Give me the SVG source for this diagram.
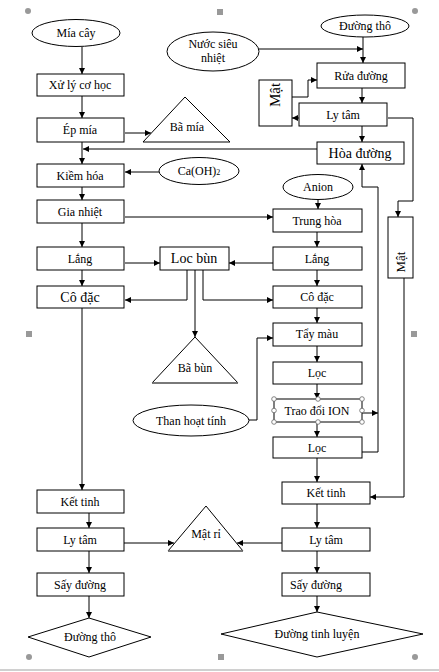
<svg xmlns="http://www.w3.org/2000/svg" width="439" height="672" viewBox="0 0 439 672">
<defs>
<marker id="ar" markerWidth="6" markerHeight="6" refX="6" refY="3" orient="auto" markerUnits="userSpaceOnUse"><path d="M0,0 L6,3 L0,6 z" fill="#000"/></marker>
<style>
.b{fill:#fff;stroke:#000;stroke-width:1}
.t{font-family:"Liberation Serif","Times New Roman",serif;font-size:12px;fill:#000;text-anchor:middle}
.tb{font-family:"Liberation Serif","Times New Roman",serif;font-size:14px;fill:#000;text-anchor:middle}
.c path,.c line,.c polyline{fill:none;stroke:#000;stroke-width:1}
.h{fill:#999}
.hx{fill:#fff;stroke:#666;stroke-width:0.8}
</style>
</defs>
<rect width="439" height="672" fill="#fff"/>
<line x1="0" y1="670" x2="439" y2="670" stroke="#d0d0d0" stroke-width="2"/>
<g id="handles">
<circle class="h" cx="28" cy="11" r="3"/><rect class="h" x="217" y="9" width="6" height="6"/><circle class="h" cx="415" cy="11" r="3"/>
<rect class="h" x="26" y="331" width="6" height="6"/><rect class="h" x="411" y="331" width="6" height="6"/>
<circle class="h" cx="29" cy="657" r="3"/><rect class="h" x="218" y="654" width="6" height="6"/><circle class="h" cx="415" cy="657" r="3"/>
</g>
<g class="c" id="connectors">
<line x1="82" y1="47" x2="82" y2="74" marker-end="url(#ar)"/>
<line x1="82" y1="96" x2="82" y2="118" marker-end="url(#ar)"/>
<line x1="125" y1="133" x2="151" y2="133" marker-end="url(#ar)"/>
<line x1="82" y1="142" x2="82" y2="164" marker-end="url(#ar)"/>
<line x1="317" y1="149" x2="83" y2="149" marker-end="url(#ar)"/>
<line x1="159" y1="172" x2="125" y2="172" marker-end="url(#ar)"/>
<line x1="82" y1="187" x2="82" y2="200" marker-end="url(#ar)"/>
<line x1="125" y1="217" x2="273" y2="217" marker-end="url(#ar)"/>
<line x1="82" y1="223" x2="82" y2="247" marker-end="url(#ar)"/>
<line x1="125" y1="263" x2="160" y2="263" marker-end="url(#ar)"/>
<line x1="82" y1="270" x2="82" y2="286" marker-end="url(#ar)"/>
<line x1="273" y1="263" x2="229" y2="263" marker-end="url(#ar)"/>
<polyline points="187,270 187,300 125,300" marker-end="url(#ar)"/>
<line x1="195" y1="270" x2="195" y2="337" marker-end="url(#ar)"/>
<polyline points="203,270 203,300 273,300" marker-end="url(#ar)"/>
<line x1="318" y1="200" x2="318" y2="209" marker-end="url(#ar)"/>
<line x1="317" y1="232" x2="317" y2="247" marker-end="url(#ar)"/>
<line x1="317" y1="270" x2="317" y2="286" marker-end="url(#ar)"/>
<line x1="317" y1="308" x2="317" y2="323" marker-end="url(#ar)"/>
<line x1="317" y1="346" x2="317" y2="362" marker-end="url(#ar)"/>
<line x1="317" y1="384" x2="317" y2="399" marker-end="url(#ar)"/>
<line x1="317" y1="422" x2="317" y2="437" marker-end="url(#ar)"/>
<line x1="317" y1="458" x2="317" y2="482" marker-end="url(#ar)"/>
<line x1="362" y1="413" x2="378" y2="413" marker-end="url(#ar)"/>
<polyline points="362,452 378,452 378,187 362,187 362,164" marker-end="url(#ar)"/>
<polyline points="248,420 257,420 257,338 273,338" marker-end="url(#ar)"/>
<line x1="82" y1="308" x2="82" y2="490" marker-end="url(#ar)"/>
<line x1="89" y1="513" x2="89" y2="528" marker-end="url(#ar)"/>
<line x1="124" y1="543" x2="174" y2="543" marker-end="url(#ar)"/>
<line x1="282" y1="543" x2="237" y2="543" marker-end="url(#ar)"/>
<line x1="89" y1="551" x2="89" y2="573" marker-end="url(#ar)"/>
<line x1="89" y1="596" x2="89" y2="618" marker-end="url(#ar)"/>
<line x1="317" y1="504" x2="317" y2="528" marker-end="url(#ar)"/>
<line x1="317" y1="551" x2="317" y2="573" marker-end="url(#ar)"/>
<line x1="317" y1="596" x2="317" y2="612" marker-end="url(#ar)"/>
<polyline points="404,278 404,497 370,497" marker-end="url(#ar)"/>
<polyline points="388,118 413,118 413,201 398,201 398,217" marker-end="url(#ar)"/>
<line x1="299" y1="118" x2="292" y2="118" marker-end="url(#ar)"/>
<polyline points="292,97 308,97 308,80 317,80" marker-end="url(#ar)"/>
<line x1="363" y1="37" x2="363" y2="63" marker-end="url(#ar)"/>
<line x1="259" y1="49" x2="363" y2="49" marker-end="url(#ar)"/>
<line x1="362" y1="88" x2="362" y2="103" marker-end="url(#ar)"/>
<line x1="362" y1="126" x2="362" y2="142" marker-end="url(#ar)"/>
</g>
<g id="miacay"><ellipse class="b" cx="76" cy="33" rx="44" ry="13.5"/><text class="t" x="76" y="37">Mía cây</text></g>
<g id="nuocsieunhiet"><ellipse class="b" cx="213" cy="51.5" rx="46" ry="19.5"/><text class="t" x="213" y="48">Nước siêu</text><text class="t" x="213" y="62">nhiệt</text></g>
<g id="duongtho0"><ellipse class="b" cx="365" cy="26" rx="44" ry="11"/><text class="t" x="365" y="30">Đường thô</text></g>
<g id="caoh"><ellipse class="b" cx="199" cy="171" rx="40" ry="13.5"/><text class="t" x="199" y="175">Ca(OH)<tspan font-size="8">2</tspan></text></g>
<g id="anion"><ellipse class="b" cx="318" cy="187" rx="35" ry="12.5"/><text class="t" x="318" y="191">Anion</text></g>
<g id="thanhoattinh"><ellipse class="b" cx="191" cy="420.5" rx="58" ry="15.5"/><text class="t" x="191" y="425">Than hoạt tính</text></g>
<g id="xuly"><rect class="b" x="37" y="74" width="87" height="22"/><text class="t" x="80" y="89">Xử lý cơ học</text></g>
<g id="epmia"><rect class="b" x="37" y="118" width="87" height="24"/><text class="t" x="80" y="134">Ép mía</text></g>
<g id="bamia"><polygon class="b" points="185,97 143,142 230,142"/><text class="t" x="187" y="131">Bã mía</text></g>
<g id="kiemhoa"><rect class="b" x="37" y="164" width="87" height="23"/><text class="t" x="80" y="180">Kiềm hóa</text></g>
<g id="gianhiet"><rect class="b" x="37" y="200" width="87" height="23"/><text class="t" x="80" y="216">Gia nhiệt</text></g>
<g id="lang1"><rect class="b" x="37" y="247" width="87" height="23"/><text class="t" x="80" y="263">Lắng</text></g>
<g id="codac1"><rect class="b" x="37" y="286" width="87" height="22"/><text class="tb" x="80" y="302">Cô đặc</text></g>
<g id="locbun"><rect class="b" x="160" y="247" width="69" height="23"/><text class="tb" x="194" y="263">Loc bùn</text></g>
<g id="babun"><polygon class="b" points="195,337 152,383 238,383"/><line x1="152" y1="383" x2="238" y2="383" stroke="#777" stroke-width="1.5"/><text class="t" x="195" y="372">Bã bùn</text></g>
<g id="rua"><rect class="b" x="317" y="63" width="88" height="25"/><text class="t" x="361" y="80">Rửa đường</text></g>
<g id="mat1"><rect class="b" x="259" y="80" width="33" height="46"/><text class="t" style="font-size:15px" transform="translate(280,95) rotate(-90)">Mật</text></g>
<g id="lytam0"><rect class="b" x="299" y="103" width="88" height="23"/><text class="t" x="343" y="119">Ly tâm</text></g>
<g id="hoaduong"><rect class="b" x="317" y="142" width="87" height="22"/><text class="tb" x="360" y="158">Hòa đường</text></g>
<g id="mat2"><rect class="b" x="388" y="217" width="25" height="61"/><text class="t" style="font-size:13px" transform="translate(405,262) rotate(-90)">Mật</text></g>
<g id="trunghoa"><rect class="b" x="273" y="209" width="89" height="23"/><text class="t" x="317" y="225">Trung hòa</text></g>
<g id="lang2"><rect class="b" x="273" y="247" width="89" height="23"/><text class="t" x="317" y="263">Lắng</text></g>
<g id="codac2"><rect class="b" x="273" y="286" width="89" height="22"/><text class="t" x="317" y="301">Cô đặc</text></g>
<g id="taymau"><rect class="b" x="273" y="323" width="89" height="23"/><text class="t" x="317" y="338">Tẩy màu</text></g>
<g id="loc1"><rect class="b" x="273" y="362" width="89" height="22"/><text class="t" x="317" y="377">Lọc</text></g>
<g id="traodoi"><rect class="b" x="274" y="399" width="88" height="23"/><text class="t" x="317" y="415">Trao đổi ION</text>
<g class="hx"><circle cx="274" cy="399" r="2.3"/><circle cx="318" cy="399" r="2.3"/><circle cx="362" cy="399" r="2.3"/><circle cx="274" cy="410.5" r="2.3"/><circle cx="362" cy="410.5" r="2.3"/><circle cx="274" cy="422" r="2.3"/><circle cx="318" cy="422" r="2.3"/><circle cx="362" cy="422" r="2.3"/></g></g>
<g id="loc2"><rect class="b" x="273" y="437" width="89" height="21"/><text class="t" x="317" y="452">Lọc</text></g>
<g id="kettinh1"><rect class="b" x="37" y="490" width="87" height="23"/><text class="t" x="80" y="506">Kết tinh</text></g>
<g id="lytam1"><rect class="b" x="37" y="528" width="87" height="23"/><text class="t" x="80" y="544">Ly tâm</text></g>
<g id="say1"><rect class="b" x="37" y="573" width="87" height="23"/><text class="t" x="80" y="589">Sấy đường</text></g>
<g id="matri"><polygon class="b" points="206,506 168,551 243,551"/><line x1="168" y1="551" x2="243" y2="551" stroke="#777" stroke-width="1.5"/><text class="t" x="206" y="538">Mật rỉ</text></g>
<g id="duongtho"><polygon class="b" points="28,637 89,618 151,637 89,657"/><text class="t" x="90" y="641">Đường thô</text></g>
<g id="kettinh2"><rect class="b" x="282" y="482" width="88" height="22"/><text class="t" x="326" y="497">Kết tinh</text></g>
<g id="lytam2"><rect class="b" x="282" y="528" width="88" height="23"/><text class="t" x="326" y="544">Ly tâm</text></g>
<g id="say2"><rect class="b" x="282" y="573" width="88" height="23"/><text class="t" x="316" y="589">Sấy đường</text></g>
<g id="duongtinhluyen"><polygon class="b" points="221,634 317,612 423,634 317,657"/><text class="t" x="317" y="638">Đường tinh luyện</text></g>
</svg>
